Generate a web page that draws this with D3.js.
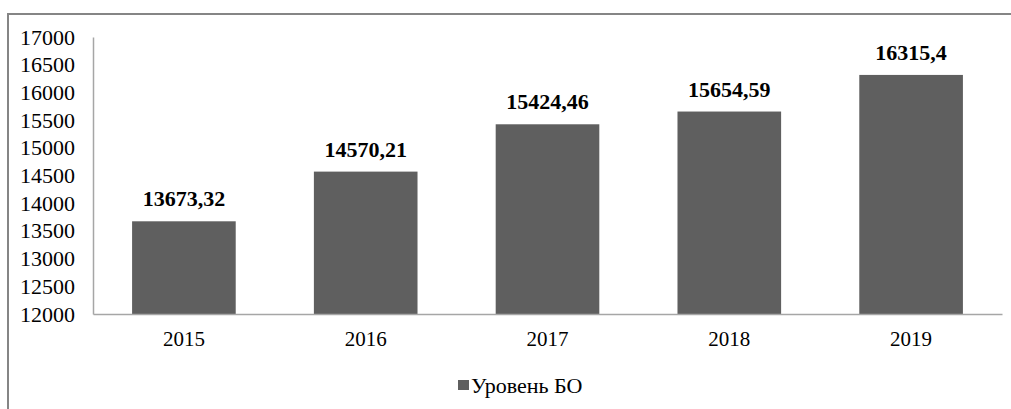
<!DOCTYPE html>
<html>
<head>
<meta charset="utf-8">
<script src="https://cdn.jsdelivr.net/npm/d3@7"></script>
<style>
	body { margin: 0; background: #fff; }
	svg { display: block; }
</style>
</head>
<body>
<script>
// DATA
var years = ["2015", "2016", "2017", "2018", "2019"]
var levels = [13673.32, 14570.21, 15424.46, 15654.59, 16315.4]
var yTicks = [12000, 12500, 13000, 13500, 14000, 14500, 15000, 15500, 16000, 16500, 17000]
var seriesName = "Уровень БО"

var W = 1011, H = 409
var plot = { left: 93, right: 1002, top: 37, bottom: 314 }
var FONT = "'Liberation Serif', 'Times New Roman', serif"

var svg = d3.select("body").append("svg")
	.attr("width", W)
	.attr("height", H)

// outer frame (only top and left edges are visible)
svg.append("rect")
	.attr("x", 8).attr("y", 14)
	.attr("width", W + 20).attr("height", H + 20)
	.attr("fill", "none")
	.attr("stroke", "#858585")
	.attr("stroke-width", 2)

var x = d3.scaleBand()
	.domain(years)
	.range([plot.left, plot.right])
	.paddingInner(0.43)
	.paddingOuter(0.215)

var y = d3.scaleLinear()
	.domain([12000, 17000])
	.range([plot.bottom, plot.top])

function fmt(v) {
	return String(v).replace(".", ",")
}

// bars
svg.append("g").selectAll("rect")
	.data(levels)
	.join("rect")
	.attr("x", function(d, i) { return x(years[i]) })
	.attr("y", function(d) { return y(d) })
	.attr("width", x.bandwidth())
	.attr("height", function(d) { return y(12000) - y(d) })
	.attr("fill", "#5f5f5f")

// y axis
var yAxis = svg.append("g")
	.attr("transform", "translate(" + plot.left + ",0)")
	.call(d3.axisLeft(y).tickValues(yTicks).tickSize(0).tickPadding(18).tickFormat(d3.format("d")))
yAxis.select(".domain").attr("stroke", "#a6a6a6").attr("stroke-width", 1.5)
yAxis.selectAll("text").style("font-size", "22px").style("font-family", FONT).attr("fill", "#000")

// x axis
var xAxis = svg.append("g")
	.attr("transform", "translate(0," + plot.bottom + ")")
	.call(d3.axisBottom(x).tickSize(0).tickPadding(17))
xAxis.select(".domain").attr("stroke", "#a6a6a6").attr("stroke-width", 1.5)
xAxis.selectAll("text").style("font-size", "21px").style("font-family", FONT).attr("fill", "#000")

// value labels
svg.append("g").selectAll("text")
	.data(levels)
	.join("text")
	.attr("x", function(d, i) { return x(years[i]) + x.bandwidth() / 2 })
	.attr("y", function(d) { return y(d) - 15 })
	.attr("text-anchor", "middle")
	.style("font-size", "22px")
	.style("font-weight", "bold")
	.style("font-family", FONT)
	.text(function(d) { return fmt(d) })

// legend
var legend = svg.append("g")
legend.append("rect")
	.attr("x", 458).attr("y", 380)
	.attr("width", 11).attr("height", 10)
	.attr("fill", "#5f5f5f")
legend.append("text")
	.attr("x", 471).attr("y", 393)
	.style("font-size", "22px")
	.style("font-family", FONT)
	.text(seriesName)
</script>
</body>
</html>
